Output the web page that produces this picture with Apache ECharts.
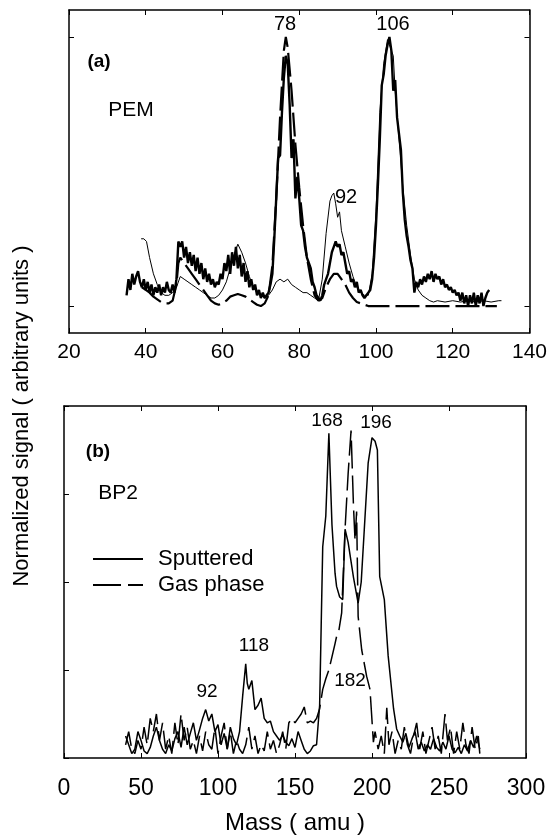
<!DOCTYPE html>
<html>
<head>
<meta charset="utf-8">
<script src="https://cdn.jsdelivr.net/npm/echarts@6/dist/echarts.min.js"></script>
<style>html,body{margin:0;padding:0;background:#fff;}#c{width:550px;height:839px;}</style>
</head>
<body>
<div id="c"></div>
<script>
// ---------- Panel (a): PEM ----------
const xTicksA = [20, 40, 60, 80, 100, 120, 140];
// thick solid line
const sputA = [[35,0.04],[35.5,0.10],[36,0.06],[36.5,0.12],[37,0.08],[37.5,0.11],[38,0.13],[38.5,0.09],[39,0.07],[39.5,0.10],[40,0.06],[40.5,0.09],[41,0.05],[41.5,0.08],[42,0.04],[42.5,0.07],[43,0.05],[43.5,0.08],[44,0.04],[44.5,0.07],[45,0.05],[45.5,0.09],[46,0.06],[46.5,0.05],[47,0.08],[47.5,0.05],[48,0.10],[48.5,0.24],[49,0.22],[49.5,0.24],[50,0.18],[50.5,0.22],[51,0.16],[51.5,0.20],[52,0.15],[52.5,0.19],[53,0.13],[53.5,0.18],[54,0.12],[54.5,0.16],[55,0.10],[55.5,0.14],[56,0.09],[56.5,0.12],[57,0.08],[57.5,0.10],[58,0.07],[58.5,0.09],[59,0.08],[59.5,0.12],[60,0.10],[60.5,0.16],[61,0.13],[61.5,0.19],[62,0.12],[62.5,0.20],[63,0.15],[63.5,0.22],[64,0.14],[64.5,0.19],[65,0.11],[65.5,0.16],[66,0.09],[66.5,0.13],[67,0.07],[67.5,0.10],[68,0.06],[68.5,0.08],[69,0.04],[69.5,0.06],[70,0.03],[70.5,0.05],[71,0.03],[71.5,0.04],[72,0.05],[72.5,0.08],[73,0.12],[73.5,0.25],[74,0.40],[74.5,0.55],[75,0.56],[75.5,0.72],[76,0.85],[76.5,0.93],[77,0.90],[77.5,0.75],[78,0.55],[78.5,0.62],[79,0.40],[79.5,0.48],[80,0.40],[80.5,0.30],[81,0.28],[81.5,0.22],[82,0.18],[82.5,0.16],[83,0.14],[83.5,0.09],[84,0.07],[84.5,0.04],[85,0.03],[85.5,0.02],[86,0.04],[86.5,0.08],[87,0.10],[87.5,0.12],[88,0.16],[88.5,0.20],[89,0.22],[89.5,0.24],[90,0.22],[90.5,0.23],[91,0.19],[91.5,0.20],[92,0.16],[92.5,0.12],[93,0.13],[93.5,0.09],[94,0.10],[94.5,0.07],[95,0.09],[95.5,0.05],[96,0.06],[96.5,0.04],[97,0.03],[97.5,0.04],[98,0.05],[98.5,0.06],[99,0.10],[99.5,0.18],[100,0.30],[100.5,0.45],[101,0.62],[101.5,0.82],[102,0.86],[102.5,0.93],[103,0.97],[103.5,1.00],[104,0.95],[104.5,0.80],[105,0.84],[105.5,0.70],[106,0.64],[106.5,0.58],[107,0.42],[107.5,0.32],[108,0.26],[108.5,0.22],[109,0.17],[109.5,0.14],[110,0.05],[110.5,0.09],[111,0.07],[111.5,0.10],[112,0.08],[112.5,0.11],[113,0.09],[113.5,0.12],[114,0.10],[114.5,0.13],[115,0.09],[115.5,0.12],[116,0.10],[116.5,0.11],[117,0.08],[117.5,0.10],[118,0.07],[118.5,0.08],[119,0.06],[119.5,0.07],[120,0.05],[120.5,0.06],[121,0.04],[121.5,0.05],[122,0.02],[122.5,0.05],[123,0.01],[123.5,0.04],[124,0.00],[124.5,0.04],[125,0.01],[125.5,0.05],[126,0.00],[126.5,0.04],[127,0.01],[127.5,0.05],[128,0.00],[128.5,0.03],[129,0.05],[129.5,0.06]];
// thin solid line
const thinA = [[38.8,0.25],[39.5,0.25],[40.2,0.24],[41,0.18],[42,0.12],[43,0.08],[44,0.05],[45,0.04],[46,0.04],[47,0.05],[48,0.07],[49,0.11],[50,0.10],[51,0.09],[52,0.08],[53,0.07],[54,0.06],[55,0.05],[56,0.04],[57,0.03],[58,0.03],[59,0.04],[60,0.06],[61,0.09],[62,0.14],[63,0.19],[64,0.23],[65,0.20],[66,0.16],[67,0.11],[68,0.07],[69,0.05],[70,0.04],[71,0.03],[72,0.04],[73,0.06],[74,0.09],[75,0.10],[76,0.09],[77,0.10],[78,0.08],[79,0.07],[80,0.06],[81,0.05],[82,0.05],[83,0.04],[84,0.03],[85,0.02],[86,0.10],[87,0.27],[88,0.39],[88.5,0.41],[89,0.42],[89.5,0.38],[90,0.33],[90.5,0.35],[91,0.28],[92,0.22],[93,0.16],[94,0.11],[95,0.07],[96,0.05],[97,0.04],[98,0.04],[99,0.12],[100,0.35],[101,0.72],[102,0.90],[103,0.99],[104,0.95],[104.5,0.93],[105,0.80],[106,0.62],[107,0.44],[108,0.30],[109,0.19],[110,0.10],[111,0.06],[112,0.04],[113,0.03],[114,0.02],[115,0.015],[116,0.02],[118,0.015],[120,0.02],[122,0.015],[124,0.02],[126,0.015],[128,0.02],[130,0.015],[132,0.02],[132.7,0.02]];
// dashed line
const gasA = [[39,0.07],[40,0.06],[41,0.05],[42,0.035],[43,0.025],[44,0.015],[45,0.01],[46,0.01],[47,0.02],[48,0.08],[48.5,0.16],[49,0.18],[50,0.16],[51,0.14],[52,0.12],[53,0.10],[54,0.08],[55,0.06],[56,0.04],[57,0.02],[58,0.01],[59,0.005],[60,0.01],[61,0.02],[62,0.035],[63,0.04],[64,0.045],[65,0.04],[66,0.035],[67,0.025],[68,0.015],[69,0.005],[70,0],[71,0.01],[72,0.04],[73,0.15],[74,0.40],[75,0.70],[76,0.95],[76.5,1.0],[77,0.96],[78,0.80],[79,0.60],[80,0.44],[81,0.30],[82,0.18],[83,0.10],[84,0.04],[85,0.02],[86,0.03],[87,0.07],[88,0.10],[89,0.12],[90,0.12],[91,0.10],[92,0.08],[93,0.05],[94,0.03],[95,0.015],[96,0.01],[97,0.005],[98,0],[104,0],[110,0],[116,0],[122,0],[128,0],[131.5,0]];
const yTicksA = [0, 1];

// ---------- Panel (b): BP2 ----------
const xTicksB = [0, 50, 100, 150, 200, 250, 300];
const sputB = [[40,0.25],[42,0.15],[44,0.05],[46,0.10],[48,0.30],[50,0.20],[52,0.08],[54,0.05],[56,0.12],[58,0.25],[60,0.35],[62,0.20],[64,0.10],[66,0.05],[68,0.15],[70,0.08],[72,0.22],[74,0.30],[76,0.12],[78,0.35],[80,0.15],[82,0.28],[84,0.40],[86,0.20],[88,0.32],[90,0.45],[92,0.55],[94,0.42],[96,0.50],[98,0.30],[100,0.38],[102,0.15],[104,0.28],[106,0.10],[108,0.35],[110,0.22],[112,0.15],[114,0.30],[116,0.70],[118,1.07],[119,0.85],[120,0.78],[122,0.88],[124,0.55],[126,0.60],[128,0.68],[130,0.45],[132,0.40],[134,0.42],[136,0.30],[138,0.25],[140,0.20],[142,0.26],[144,0.18],[146,0.14],[148,0.22],[150,0.12],[152,0.30],[154,0.20],[156,0.10],[158,0.05],[160,0.08],[162,0.14],[164,0.15],[166,0.60],[167,1.50],[168,2.40],[170,2.75],[172,3.69],[174,2.65],[176,2.10],[177,1.95],[179,1.83],[181,1.80],[182.5,2.60],[184.5,2.45],[188,2.05],[191,1.76],[193,2.00],[195,2.60],[197.5,3.35],[200,3.64],[202,3.60],[203.5,3.50],[205,2.06],[208,1.80],[210.5,1.16],[214,0.56],[216,0.33],[218,0.25],[220,0.18],[222,0.28],[224,0.12],[226,0.22],[228,0.30],[230,0.10],[232,0.18],[234,0.08],[236,0.15],[238,0.10],[240,0.22],[242,0.12],[244,0.08],[246,0.18],[248,0.10],[250,0.25],[252,0.10],[254,0.06],[256,0.12],[258,0.05],[260,0.15],[262,0.08],[264,0.20],[266,0.12],[268,0.25],[270,0.10]];
const gasB = [[40,0.15],[42,0.30],[44,0.10],[46,0.05],[48,0.20],[50,0.10],[52,0.35],[54,0.15],[56,0.45],[58,0.30],[60,0.50],[62,0.20],[64,0.40],[66,0.10],[68,0.25],[70,0.05],[72,0.40],[74,0.15],[76,0.50],[78,0.20],[80,0.35],[82,0.10],[84,0.20],[86,0.05],[88,0.25],[90,0.08],[92,0.30],[94,0.15],[96,0.10],[98,0.35],[100,0.05],[102,0.25],[104,0.40],[106,0.10],[108,0.30],[110,0.05],[112,0.20],[114,0.10],[116,0.05],[118,0.15],[120,0.35],[122,0.10],[124,0.25],[126,0.05],[128,0.15],[130,0.08],[132,0.30],[134,0.10],[136,0.20],[138,0.05],[140,0.15],[142,0.30],[144,0.10],[146,0.40],[148,0.45],[150,0.40],[152,0.45],[154,0.50],[156,0.58],[158,0.40],[160,0.42],[162,0.40],[164,0.45],[166,0.56],[168,0.78],[170,0.90],[172,1.00],[174,1.15],[176,1.30],[177,1.38],[178.5,1.45],[180.3,1.65],[182.5,2.60],[184.5,3.23],[186.4,3.72],[188,2.85],[189,2.47],[190,2.80],[191,1.61],[193.3,1.23],[196.5,0.93],[198.7,0.78],[200.9,0.18],[202,0.30],[204,0.10],[206,0.25],[208,0.05],[209.6,0.57],[211,0.15],[213,0.30],[215,0.05],[217,0.20],[219,0.10],[221,0.35],[223,0.15],[225,0.05],[227,0.25],[229,0.40],[231,0.10],[233,0.30],[235,0.05],[237,0.20],[239,0.35],[241,0.10],[243,0.25],[245,0.05],[247.4,0.50],[249,0.20],[251,0.35],[253,0.05],[255,0.30],[257,0.10],[259,0.40],[261,0.15],[263,0.05],[265,0.35],[267,0.10],[269,0.25],[270,0.05]];
const yTicksB = [0, 1, 2, 3, 4];

const seriesNames = ['Sputtered', 'Gas phase'];

const FONT = '"Liberation Sans", Arial, Helvetica, sans-serif';
const BLACK = '#000';
const NONE = 'rgba(0,0,0,0)';

function xAx(grid, ticks, pos, showLabel, fs, margin) {
  return {
    type: 'value', gridIndex: grid, position: pos,
    min: ticks[0], max: ticks[ticks.length - 1], interval: ticks[1] - ticks[0],
    axisLine: { show: true, onZero: false, lineStyle: { color: BLACK, width: 1.5 } },
    axisTick: { show: true, inside: true, length: 5, lineStyle: { color: BLACK, width: 1 } },
    axisLabel: { show: showLabel, color: BLACK, fontSize: fs, fontFamily: FONT, margin: margin },
    splitLine: { show: false }
  };
}
function yAx(grid, min, max, ticks, pos, showTicks) {
  return {
    type: 'value', gridIndex: grid, position: pos, min: min, max: max,
    axisLine: { show: true, onZero: false, lineStyle: { color: BLACK, width: 1.5 } },
    axisTick: { show: showTicks, inside: true, length: 5, lineStyle: { color: BLACK, width: 1 }, customValues: ticks },
    axisLabel: { show: false, customValues: ticks },
    splitLine: { show: false }
  };
}
function txt(x, y, s, font, rot) {
  return { type: 'text', x: x, y: y, rotation: rot || 0,
    style: { text: s, font: font, fill: BLACK, textAlign: 'center', textVerticalAlign: 'middle' } };
}

const chart = echarts.init(document.getElementById('c'), null, { renderer: 'canvas' });
chart.setOption({
  animation: false,
  backgroundColor: '#fff',
  grid: [
    { left: 69, top: 10, width: 462, height: 323 },
    { left: 64, top: 406, width: 462, height: 352 }
  ],
  xAxis: [
    xAx(0, xTicksA, 'bottom', true, 21, 9),
    xAx(0, xTicksA, 'top', false, 21, 9),
    xAx(1, xTicksB, 'bottom', true, 23, 19),
    xAx(1, xTicksB, 'top', false, 23, 19)
  ],
  yAxis: [
    yAx(0, -0.1, 1.1, yTicksA, 'left', true),
    yAx(0, -0.1, 1.1, yTicksA, 'right', true),
    yAx(1, 0, 4, yTicksB, 'left', true),
    yAx(1, 0, 4, yTicksB, 'right', false)
  ],
  legend: {
    data: seriesNames,
    orient: 'vertical', left: 87, top: 543,
    itemWidth: 50, itemHeight: 14, itemGap: 4,
    itemStyle: { color: NONE, borderColor: NONE, borderWidth: 0, opacity: 0 },
    textStyle: { color: BLACK, fontSize: 22, fontFamily: FONT, lineHeight: 22, padding: [0, 0, 0, 10] },
    selectedMode: false
  },
  series: [
    { name: 'gasA', type: 'line', xAxisIndex: 0, yAxisIndex: 0, data: gasA, symbol: 'none',
      lineStyle: { color: BLACK, width: 2.2, type: [24, 6] } },
    { name: 'thinA', type: 'line', xAxisIndex: 0, yAxisIndex: 0, data: thinA, symbol: 'none',
      lineStyle: { color: BLACK, width: 1 } },
    { name: 'sputA', type: 'line', xAxisIndex: 0, yAxisIndex: 0, data: sputA, symbol: 'none',
      lineStyle: { color: BLACK, width: 2.4 } },
    { name: seriesNames[0], type: 'line', xAxisIndex: 2, yAxisIndex: 2, data: sputB, symbol: 'none',
      itemStyle: { color: BLACK }, lineStyle: { color: BLACK, width: 1.5 } },
    { name: seriesNames[1], type: 'line', xAxisIndex: 2, yAxisIndex: 2, data: gasB, symbol: 'none',
      itemStyle: { color: BLACK }, lineStyle: { color: BLACK, width: 1.5, type: [28, 7] } }
  ],
  graphic: [
    txt(99, 62, '(a)', 'bold 19px ' + FONT),
    txt(131, 110, 'PEM', '21px ' + FONT),
    txt(285, 24, '78', '20px ' + FONT),
    txt(393, 24, '106', '20px ' + FONT),
    txt(346, 197, '92', '20px ' + FONT),
    txt(98, 452, '(b)', 'bold 19px ' + FONT),
    txt(118, 493, 'BP2', '21px ' + FONT),
    txt(254, 646, '118', '19px ' + FONT),
    txt(207, 692, '92', '19px ' + FONT),
    txt(327, 421, '168', '19px ' + FONT),
    txt(376, 423, '196', '19px ' + FONT),
    txt(350, 681, '182', '19px ' + FONT),
    txt(22, 416, 'Normalized signal ( arbitrary units )', '22px ' + FONT, Math.PI / 2),
    txt(295, 823, 'Mass ( amu )', '24px ' + FONT)
  ]
});
</script>
</body>
</html>
